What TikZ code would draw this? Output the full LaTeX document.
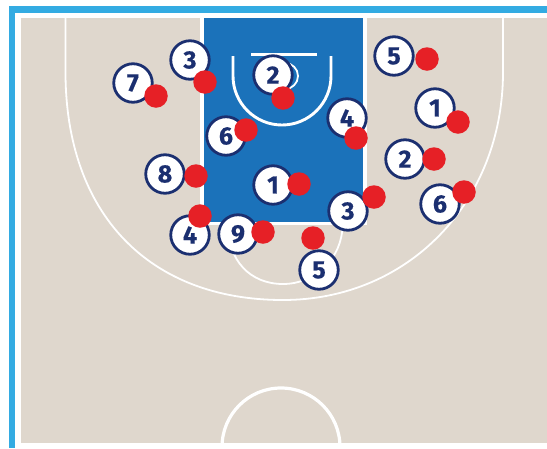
\documentclass[tikz,border=0pt]{standalone}
\usepackage{fontspec}
\setmainfont{Fira Sans}[BoldFeatures={FakeBold=0.5}]
\definecolor{navy}{HTML}{1B2F70}
\definecolor{hoopred}{HTML}{E62026}
\definecolor{paintblue}{HTML}{1B72BA}
\definecolor{courtbeige}{HTML}{DFD7CD}
\definecolor{framecyan}{HTML}{33ABE2}
\tikzset{
  player/.style={circle,draw=navy,line width=2.8pt,fill=white,minimum size=38.5pt,inner sep=0pt,text=navy,font=\fontsize{25}{25}\selectfont\bfseries},
  mark dot/.style={circle,fill=hoopred,draw=none,minimum size=23.5pt,inner sep=0pt},
  courtline/.style={draw=white,line width=1.8pt},
  thickline/.style={draw=white,line width=3.2pt}
}
\begin{document}
\begin{tikzpicture}[x=1pt,y=-1pt]
\useasboundingbox (0,0) rectangle (547,448);
\fill[white] (0,0) rectangle (547,448);
% frame
\fill[framecyan] (9,6) rectangle (547,12.5);
\fill[framecyan] (9,6) rectangle (15,448);
% court
\fill[courtbeige] (21,18) rectangle (547,443);
% paint
\fill[white] (199.5,18) rectangle (366.5,225);
\fill[paintblue] (203.5,18) rectangle (362.7,221.7);
\begin{scope}
\clip (21,18) rectangle (547,443);
% three point line
\draw[courtline] (65.5,18) -- (65.5,72)
  .. controls (65.5,213.4) and (148.5,300) .. (283,300)
  .. controls (408.4,300) and (503,202) .. (503,72) -- (503,18);
% free throw lower half
\draw[courtline] (228,225) .. controls (228,260.4) and (250,284) .. (283,284)
  .. controls (315.7,284) and (342.5,257.5) .. (342.5,225);
% centre circle
\draw[thickline] (281,447) circle[radius=59];
\end{scope}
% restricted area
\draw[thickline,line width=2.9pt] (233,56) -- (233,76) arc[start angle=180,end angle=0,x radius=49,y radius=49] -- (331,56);
% backboard and rim
\draw[thickline,line width=3.6pt] (251,54.5) -- (317,54.5);
\draw[courtline] (285,76) circle[radius=13];
% players
\node[player] (p3a) at (190,60) {3};
\node[player] (p7) at (133,83) {7};
\node[player] (p2a) at (273,75) {2};
\node[player] (p5a) at (394,56) {5};
\node[player] (p1a) at (435,108) {1};
\node[player] (p4a) at (347,118) {4};
\node[player] (p6a) at (226,136) {6};
\node[player] (p2b) at (405,159) {2};
\node[player] (p8) at (165,174) {8};
\node[player] (p1b) at (273,185) {1};
\node[player] (p6b) at (440,204) {6};
\node[player] (p3b) at (348,211) {3};
\node[player] (p4b) at (190,235) {4};
\node[player] (p9) at (238,234) {9};
\node[player] (p5b) at (319,270) {5};
% red marks
\node[mark dot] (r1) at (205,82) {};
\node[mark dot] (r2) at (156,96) {};
\node[mark dot] (r3) at (283,98) {};
\node[mark dot] (r4) at (427,59) {};
\node[mark dot] (r5) at (458,122) {};
\node[mark dot] (r6) at (356,138) {};
\node[mark dot] (r7) at (246,130) {};
\node[mark dot] (r8) at (434,159) {};
\node[mark dot] (r9) at (196,176) {};
\node[mark dot] (r10) at (299,184) {};
\node[mark dot] (r11) at (464,192) {};
\node[mark dot] (r12) at (374,197) {};
\node[mark dot] (r13) at (200,216) {};
\node[mark dot] (r14) at (263,232) {};
\node[mark dot] (r15) at (313,238) {};
\end{tikzpicture}
\end{document}
